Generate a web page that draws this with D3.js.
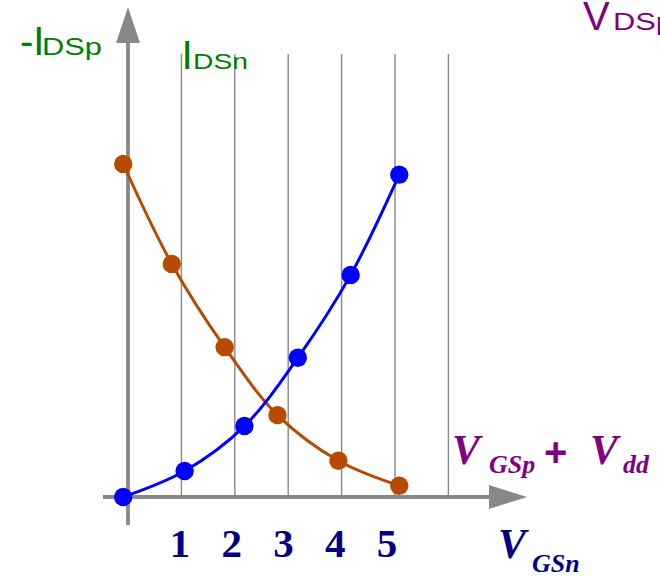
<!DOCTYPE html>
<html>
<head>
<meta charset="utf-8">
<script src="https://cdn.jsdelivr.net/npm/d3@7"></script>
<style>
  html, body { margin: 0; padding: 0; background: #fff; }
  svg { display: block; }
</style>
</head>
<body>
<div id="chart"></div>
<script>
// values
const nVgs = [-0.09, 1.06, 2.18, 3.18, 4.17, 5.08];
const nIds = [0, 7.8, 21.3, 41.8, 66.7, 96.8];
const pVgs = [-0.09, 0.82, 1.81, 2.80, 3.94, 5.08];
const pIds = [100, 70.0, 45.0, 24.6, 10.9, 3.4];
const gridValues = [1, 2, 3, 4, 5, 6];
const tickLabels = ['1', '2', '3', '4', '5'];

const WIDTH = 660;
const HEIGHT = 576;
const AXIS_COLOR = '#888888';
const GREEN = '#008000';
const PURPLE = '#800080';
const NAVY = '#000080';
const BLUE = '#0000ff';
const ORANGE = '#b84a00';

const svg = d3.select('#chart')
  .append('svg')
  .attr('width', WIDTH)
  .attr('height', HEIGHT)
  .attr('viewBox', `0 0 ${WIDTH} ${HEIGHT}`);

const x = d3.scaleLinear().domain([0, 6]).range([128, 448.4]);
const y = d3.scaleLinear().domain([0, 100]).range([497, 164]);
const labelX = d3.scaleLinear().domain([1, 5]).range([180, 387]);

// vertical grid lines
svg.append('g')
  .selectAll('line')
  .data(gridValues)
  .join('line')
  .attr('x1', d => x(d))
  .attr('x2', d => x(d))
  .attr('y1', 54)
  .attr('y2', y(0))
  .attr('stroke', AXIS_COLOR)
  .attr('stroke-width', 1.4);

// axes with arrow heads
const axes = svg.append('g').attr('fill', AXIS_COLOR).attr('stroke', AXIS_COLOR);
axes.append('line')
  .attr('x1', x(0)).attr('x2', x(0))
  .attr('y1', 525).attr('y2', 42)
  .attr('stroke-width', 3.8);
axes.append('path')
  .attr('stroke', 'none')
  .attr('d', `M${x(0)},7 L${x(0) + 12},43 L${x(0) - 12},43 Z`);
axes.append('line')
  .attr('x1', 103).attr('x2', 491)
  .attr('y1', y(0)).attr('y2', y(0))
  .attr('stroke-width', 3.8);
axes.append('path')
  .attr('stroke', 'none')
  .attr('d', `M527,${y(0)} L489,${y(0) - 12} L489,${y(0) + 12} Z`);

// curves
const line = d3.line()
  .x(d => x(d[0]))
  .y(d => y(d[1]))
  .curve(d3.curveCatmullRom.alpha(0.5));

const nData = d3.zip(nVgs, nIds);
const pData = d3.zip(pVgs, pIds);

[[pData, ORANGE], [nData, BLUE]].forEach(([data, color]) => {
  svg.append('path')
    .datum(data)
    .attr('d', line)
    .attr('fill', 'none')
    .attr('stroke', color)
    .attr('stroke-width', 3);
  svg.append('g')
    .selectAll('circle')
    .data(data)
    .join('circle')
    .attr('cx', d => x(d[0]))
    .attr('cy', d => y(d[1]))
    .attr('r', 9.2)
    .attr('fill', color);
});

// tick labels
svg.append('g')
  .selectAll('text')
  .data(tickLabels)
  .join('text')
  .attr('x', (d, i) => labelX(i + 1))
  .attr('y', 557)
  .attr('text-anchor', 'middle')
  .attr('font-family', 'Liberation Serif, serif')
  .attr('font-weight', 'bold')
  .attr('font-size', 41)
  .attr('fill', NAVY)
  .text(d => d);

// labels
const sans = 'Liberation Sans, Arial, sans-serif';
const serif = 'Liberation Serif, serif';

const addText = (txt, px, py, size, color, opts = {}) => {
  const t = svg.append('text')
    .attr('x', px)
    .attr('y', py)
    .attr('font-family', opts.family || sans)
    .attr('font-size', size)
    .attr('fill', color)
    .text(txt);
  if (opts.bold) t.attr('font-weight', 'bold');
  if (opts.italic) t.attr('font-style', 'italic');
  if (opts.len) t.attr('textLength', opts.len).attr('lengthAdjust', 'spacingAndGlyphs');
  return t;
};

addText('-I', 20, 55, 40, GREEN);
addText('DSp', 42, 55, 23, GREEN, { len: 60 });

addText('I', 181.5, 69, 41, GREEN);
addText('DSn', 193, 69, 22, GREEN, { len: 55 });

addText('V', 583, 30, 40, PURPLE);
addText('DSp', 613, 30, 23, PURPLE, { len: 60 });

const bi = { family: serif, bold: true, italic: true };
addText('V', 452, 464, 42, PURPLE, bi);
addText('GSp', 489, 473, 26, PURPLE, bi);
addText('+', 544, 466, 40, PURPLE, { bold: true });
addText('V', 590, 464, 42, PURPLE, bi);
addText('dd', 623, 473, 26, PURPLE, bi);

addText('V', 498, 558, 42, NAVY, bi);
addText('GSn', 532, 572, 26, NAVY, bi);
</script>
</body>
</html>
